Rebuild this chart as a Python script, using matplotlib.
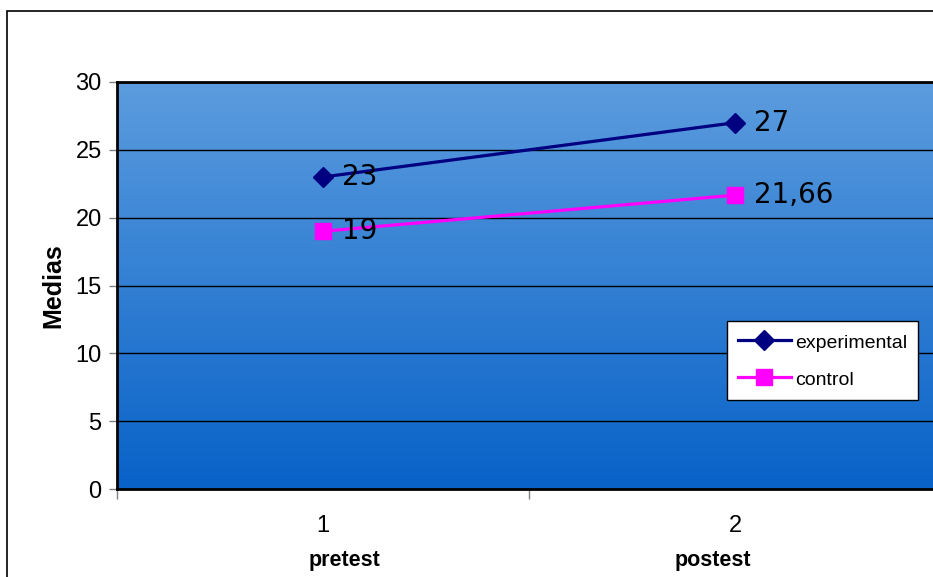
import numpy as np
import matplotlib
matplotlib.use("Agg")
import matplotlib.pyplot as plt
from matplotlib.patches import Rectangle

categories = ["pretest", "postest"]
tick_numbers = ["1", "2"]
experimental = [23, 27]
control = [19, 21.66]
value_labels_exp = ["23", "27"]
value_labels_ctl = ["19", "21,66"]
y_ticks = [0, 5, 10, 15, 20, 25, 30]

plt.rcParams['font.family'] = ['Liberation Sans', 'DejaVu Sans']

W, H = 933, 577
fig = plt.figure(figsize=(W / 100, H / 100), dpi=100)

# figure border (top and left visible)
fig.patches.append(Rectangle((7 / W, -0.1), 1.2, 1 - 11 / H + 0.1, transform=fig.transFigure,
                             fill=False, edgecolor='black', linewidth=1.2, zorder=0))

left, right, top, bottom = 117, 941, 82, 489
ax = fig.add_axes([left / W, 1 - bottom / H, (right - left) / W, (bottom - top) / H])

x = np.arange(1, len(categories) + 1)
ax.set_xlim(0.5, len(categories) + 0.5)
ax.set_ylim(0, 30)

# gradient background
top_c = np.array([92, 156, 222]) / 255
bot_c = np.array([8, 98, 200]) / 255
t = np.linspace(0, 1, 256)[:, None]
grad = (top_c[None, :] * (1 - t) + bot_c[None, :] * t)[:, None, :]
ax.imshow(grad, extent=[0, 1, 0, 1], transform=ax.transAxes, aspect='auto', zorder=0)

ax.set_yticks(y_ticks)
ax.grid(axis='y', color='black', linewidth=1.0, zorder=1)
ax.set_axisbelow(True)

ax.plot(x, experimental, color='#000080', linewidth=2.3, marker='D', markersize=10,
        markerfacecolor='#000080', markeredgecolor='#000080', label='experimental', zorder=3)
ax.plot(x, control, color='#FF00FF', linewidth=2.3, marker='s', markersize=11,
        markerfacecolor='#FF00FF', markeredgecolor='#FF00FF', label='control', zorder=3)

for xi, v, s in zip(x, experimental, value_labels_exp):
    ax.annotate(s, (xi, v), xytext=(14, 0), textcoords='offset points', ha='left', va='center',
                fontsize=20, family=['DejaVu Sans'], color='black', zorder=4)
for xi, v, s in zip(x, control, value_labels_ctl):
    ax.annotate(s, (xi, v), xytext=(14, 0), textcoords='offset points', ha='left', va='center',
                fontsize=20, family=['DejaVu Sans'], color='black', zorder=4)

for sp in ['left', 'bottom', 'top']:
    ax.spines[sp].set_linewidth(2.0)
    ax.spines[sp].set_color('black')
ax.spines['right'].set_visible(False)

ax.tick_params(axis='y', direction='out', length=6, width=1, color='#808080', pad=5,
               labelsize=17)
ax.set_xticks(x)
ax.set_xticklabels(tick_numbers)
ax.set_xticks(np.arange(0.5, len(categories) + 1, 1.0), minor=True)
ax.tick_params(axis='x', which='major', length=0, pad=19, labelsize=17)
ax.tick_params(axis='x', which='minor', direction='out', length=7, width=1, color='#808080')

# category captions (placed as separate text boxes, slightly off-centre as in the original)
cat_offsets_px = [21, -22]
for xi, c, off in zip(x, categories, cat_offsets_px):
    ax.annotate(c, (xi, -0.175), xycoords=ax.get_xaxis_transform(), xytext=(off * 0.72, 0),
                textcoords='offset points', ha='center', va='center',
                fontsize=15.5, fontweight='bold')

ax.set_ylabel('Medias', fontsize=18, fontweight='bold', labelpad=7)

leg = ax.legend(loc='upper left', bbox_to_anchor=((727 - left) / (right - left), (bottom - 321) / (bottom - top)),
                borderaxespad=0, fontsize=14, frameon=True, fancybox=False, edgecolor='black',
                framealpha=1, handlelength=2.75, handleheight=1.2, labelspacing=0.83,
                borderpad=0.55, handletextpad=0.2)
leg.get_frame().set_linewidth(1.0)

fig.savefig('out.png', dpi=100)
